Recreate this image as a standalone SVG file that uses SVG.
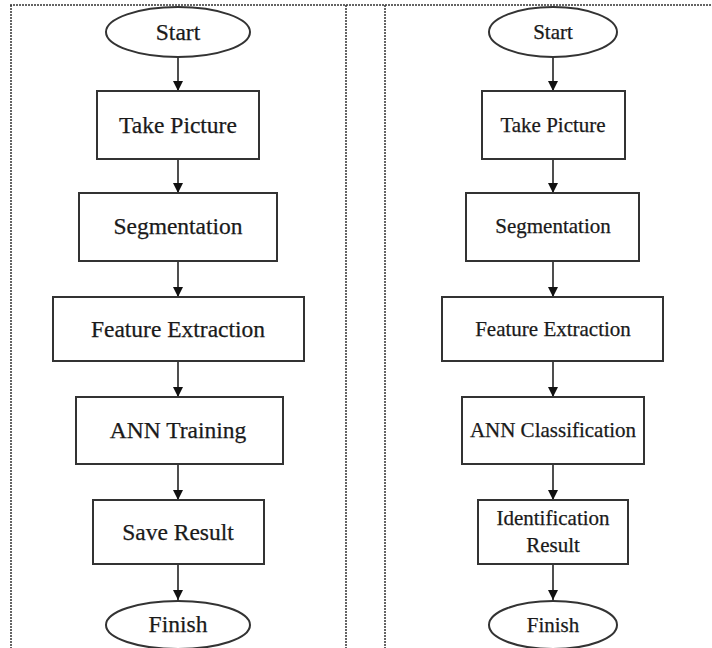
<svg xmlns="http://www.w3.org/2000/svg" width="712" height="648" viewBox="0 0 712 648">
<style>
.frame{stroke:#333;stroke-width:1.5;stroke-dasharray:2 1;fill:none}
.box{fill:#fff;stroke:#333;stroke-width:2}
.ln{stroke:#222;stroke-width:1.6;fill:none}
.tl{font-family:"Liberation Serif","Times New Roman",serif;font-size:23.5px;fill:#1a1a1a;stroke:#1a1a1a;stroke-width:0.25;text-anchor:middle}
.tr{font-family:"Liberation Serif","Times New Roman",serif;font-size:21px;fill:#1a1a1a;stroke:#1a1a1a;stroke-width:0.25;text-anchor:middle}
</style>
<defs>
<marker id="ah" viewBox="0 0 10 10" refX="10" refY="5" markerWidth="10" markerHeight="10" markerUnits="userSpaceOnUse" orient="auto">
<path d="M0,0 L10,5 L0,10 Z" fill="#111"/>
</marker>
</defs>
<rect width="712" height="648" fill="#fff"/>
<g id="frame">
<line class="frame" x1="10" y1="5" x2="712" y2="5"/>
<line class="frame" x1="11" y1="5" x2="11" y2="648"/>
<line class="frame" x1="346" y1="5" x2="346" y2="648"/>
<line class="frame" x1="385" y1="5" x2="385" y2="648"/>
</g>
<g id="connectors">
<line class="ln" x1="178" y1="57" x2="178" y2="91" marker-end="url(#ah)"/>
<line class="ln" x1="178" y1="159" x2="178" y2="193" marker-end="url(#ah)"/>
<line class="ln" x1="178" y1="261" x2="178" y2="297" marker-end="url(#ah)"/>
<line class="ln" x1="178" y1="361" x2="178" y2="397" marker-end="url(#ah)"/>
<line class="ln" x1="178" y1="464" x2="178" y2="500" marker-end="url(#ah)"/>
<line class="ln" x1="178" y1="564" x2="178" y2="600" marker-end="url(#ah)"/>
<line class="ln" x1="553" y1="57" x2="553" y2="91" marker-end="url(#ah)"/>
<line class="ln" x1="553" y1="159" x2="553" y2="193" marker-end="url(#ah)"/>
<line class="ln" x1="553" y1="261" x2="553" y2="297" marker-end="url(#ah)"/>
<line class="ln" x1="553" y1="361" x2="553" y2="397" marker-end="url(#ah)"/>
<line class="ln" x1="553" y1="464" x2="553" y2="500" marker-end="url(#ah)"/>
<line class="ln" x1="553" y1="564" x2="553" y2="600" marker-end="url(#ah)"/>
</g>
<g id="l-start"><ellipse class="box" cx="178" cy="32" rx="72" ry="25"/><text class="tl" x="178" y="40">Start</text></g>
<g id="l-take"><rect class="box" x="97" y="91" width="162" height="68"/><text class="tl" x="178" y="133">Take Picture</text></g>
<g id="l-seg"><rect class="box" x="79" y="193" width="198" height="68"/><text class="tl" x="178" y="234">Segmentation</text></g>
<g id="l-feat"><rect class="box" x="53" y="297" width="251" height="64"/><text class="tl" x="178" y="337">Feature Extraction</text></g>
<g id="l-ann"><rect class="box" x="76" y="397" width="207" height="67"/><text class="tl" x="178" y="438">ANN Training</text></g>
<g id="l-save"><rect class="box" x="93" y="500" width="171" height="64"/><text class="tl" x="178" y="540">Save Result</text></g>
<g id="l-finish"><ellipse class="box" cx="178" cy="625" rx="72" ry="24"/><text class="tl" x="178" y="632">Finish</text></g>
<g id="r-start"><ellipse class="box" cx="553" cy="32" rx="64" ry="25"/><text class="tr" x="553" y="39">Start</text></g>
<g id="r-take"><rect class="box" x="482" y="91" width="143" height="68"/><text class="tr" x="553" y="132">Take Picture</text></g>
<g id="r-seg"><rect class="box" x="466" y="193" width="173" height="68"/><text class="tr" x="553" y="233">Segmentation</text></g>
<g id="r-feat"><rect class="box" x="442" y="297" width="221" height="64"/><text class="tr" x="553" y="336">Feature Extraction</text></g>
<g id="r-ann"><rect class="box" x="462" y="397" width="182" height="67"/><text class="tr" x="553" y="437">ANN Classification</text></g>
<g id="r-id"><rect class="box" x="478" y="500" width="150" height="64"/><text class="tr" x="553" y="525">Identification</text><text class="tr" x="553" y="552">Result</text></g>
<g id="r-finish"><ellipse class="box" cx="553" cy="625" rx="64" ry="24"/><text class="tr" x="553" y="632">Finish</text></g>
</svg>
